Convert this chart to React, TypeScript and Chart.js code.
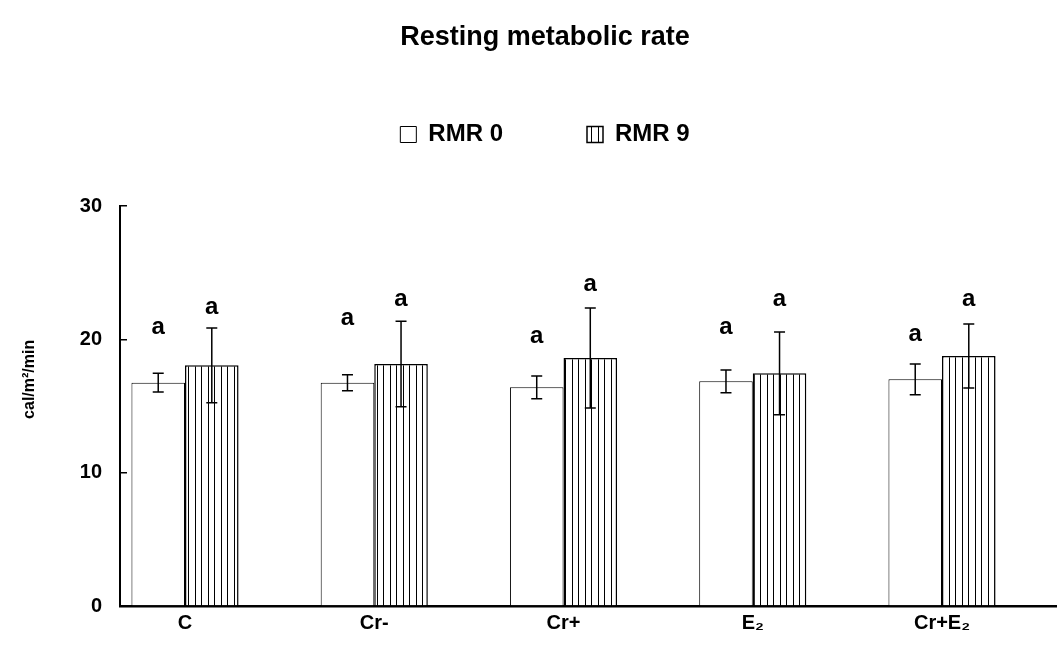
import React, { useEffect, useRef } from 'react';
import { Chart, registerables } from 'chart.js';

Chart.register(...registerables);

// ---- data ----
const categories = ['C', 'Cr-', 'Cr+', 'E₂', 'Cr+E₂'];
const seriesNames = ['RMR 0', 'RMR 9'];
const rmr0 = [16.75, 16.75, 16.4, 16.85, 17.0];
const rmr0Err = [0.7, 0.6, 0.85, 0.85, 1.15];
const rmr9 = [18.05, 18.15, 18.6, 17.45, 18.75];
const rmr9Err = [2.8, 3.2, 3.75, 3.1, 2.4];
const rmr0Letters = ['a', 'a', 'a', 'a', 'a'];
const rmr9Letters = ['a', 'a', 'a', 'a', 'a'];
// y value (on the y scale) at which each significance letter sits
const rmr0LetterY = [20.9, 21.6, 20.2, 20.9, 20.4];
const rmr9LetterY = [22.4, 23.0, 24.1, 23.0, 23.0];
const yTicks = [0, 10, 20, 30];

const FAMILY = '"Liberation Sans", Arial, sans-serif';

export default function App() {
  const ref = useRef<HTMLCanvasElement>(null);

  useEffect(() => {
    const canvas = ref.current;
    if (!canvas) return;
    const ctx = canvas.getContext('2d')!;

    const pc = document.createElement('canvas');
    pc.width = 13;
    pc.height = 8;
    const pctx = pc.getContext('2d')!;
    pctx.fillStyle = '#fff';
    pctx.fillRect(0, 0, 13, 8);
    pctx.fillStyle = '#000';
    pctx.fillRect(0, 0, 1, 8);
    pctx.fillRect(6, 0, 1, 8);
    const hatch = ctx.createPattern(pc, 'repeat')!;

    const sets = [
      { mean: rmr0, err: rmr0Err, letters: rmr0Letters, letterY: rmr0LetterY },
      { mean: rmr9, err: rmr9Err, letters: rmr9Letters, letterY: rmr9LetterY },
    ];

    const errorBars = {
      id: 'errorBars',
      afterDatasetsDraw(chart: any) {
        const c = chart.ctx;
        const y = chart.scales.y;
        sets.forEach((s, di) => {
          const meta = chart.getDatasetMeta(di);
          meta.data.forEach((el: any, j: number) => {
            const x = el.x;
            const top = y.getPixelForValue(s.mean[j] + s.err[j]);
            const bot = y.getPixelForValue(s.mean[j] - s.err[j]);
            c.save();
            c.strokeStyle = '#000';
            c.lineWidth = 1.5;
            c.beginPath();
            c.moveTo(x, top);
            c.lineTo(x, bot);
            c.moveTo(x - 5.5, top);
            c.lineTo(x + 5.5, top);
            c.moveTo(x - 5.5, bot);
            c.lineTo(x + 5.5, bot);
            c.stroke();
            c.font = `bold 24px ${FAMILY}`;
            c.textAlign = 'center';
            c.textBaseline = 'alphabetic';
            c.fillStyle = '#000';
            c.fillText(s.letters[j], x, y.getPixelForValue(s.letterY[j]) + 6.5);
            c.restore();
          });
        });
      },
    };

    const chart = new Chart(canvas, {
      type: 'bar',
      data: {
        datasets: [
          {
            label: seriesNames[0],
            data: rmr0.map((v, i) => ({ x: i, y: v })),
            backgroundColor: '#fff',
            borderColor: '#000',
            borderWidth: 1,
          },
          {
            label: seriesNames[1],
            data: rmr9.map((v, i) => ({ x: i, y: v })),
            backgroundColor: hatch as any,
            borderColor: '#000',
            borderWidth: 1.5,
          },
        ],
      },
      options: {
        responsive: false,
        animation: false,
        layout: { padding: 0 },
        datasets: { bar: { categoryPercentage: 0.566, barPercentage: 1 } } as any,
        plugins: {
          title: {
            display: true,
            text: 'Resting metabolic rate',
            color: '#000',
            font: { family: FAMILY, size: 27, weight: 'bold' },
            padding: { top: 21, bottom: -14.9 },
          },
          legend: {
            display: true,
            position: 'top',
            weight: 1700,
            labels: {
              boxWidth: 16,
              boxHeight: 16,
              padding: 84,
              color: '#000',
              font: { family: FAMILY, size: 24, weight: 'bold' },
            },
          } as any,
          subtitle: {
            display: true,
            text: ' ',
            font: { size: 10 },
            padding: { top: 37.5, bottom: 0 },
          },
          tooltip: { enabled: false },
        },
        scales: {
          x: {
            type: 'linear',
            min: -0.3435,
            max: 4.782,
            offset: false,
            grid: { display: false, drawOnChartArea: false, drawTicks: false },
            border: { display: true, color: '#000', width: 2.5 },
            ticks: {
              stepSize: 1,
              includeBounds: false,
              autoSkip: false,
              maxRotation: 0,
              padding: 5,
              color: '#000',
              font: { family: FAMILY, size: 20, weight: 'bold' },
              callback: (v: any) => (Number.isInteger(v) ? categories[v] ?? '' : ''),
            },
            afterFit: (s: any) => {
              s.height = 40;
            },
          },
          y: {
            min: yTicks[0],
            max: yTicks[yTicks.length - 1],
            afterBuildTicks: (s: any) => {
              s.ticks = yTicks.map((v) => ({ value: v }));
            },
            ticks: {
              padding: 25,
              color: '#000',
              font: { family: FAMILY, size: 20, weight: 'bold' },
            },
            grid: {
              drawOnChartArea: false,
              drawTicks: true,
              tickLength: -7,
              color: '#000',
              lineWidth: 1.5,
            },
            border: { display: true, color: '#000', width: 2 },
            title: {
              display: true,
              text: '            cal/m²/min',
              color: '#000',
              font: { family: FAMILY, size: 16, weight: 'bold' },
              padding: { top: 20, bottom: 0 },
            },
            afterFit: (s: any) => {
              s.width = 120;
            },
          },
        },
      } as any,
      plugins: [errorBars],
    });

    return () => chart.destroy();
  }, []);

  return (
    <div
      style={{
        position: 'absolute',
        left: 0,
        top: 0,
        width: 1057,
        height: 646,
        overflow: 'hidden',
        background: '#fff',
      }}
    >
      <canvas ref={ref} width={1090} height={646} style={{ display: 'block', width: 1090, height: 646 }} />
    </div>
  );
}
